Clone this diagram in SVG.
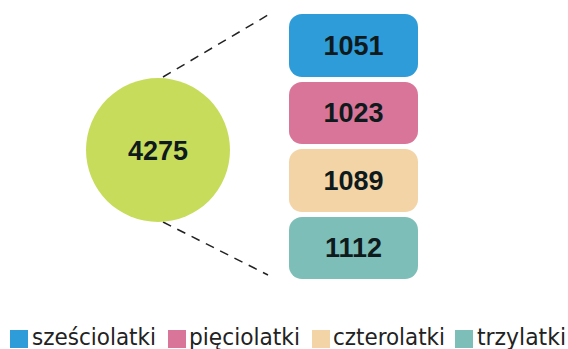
<svg xmlns="http://www.w3.org/2000/svg" width="568" height="349" viewBox="0 0 568 349">
<style>
.num{font-family:"Liberation Sans",Arial,sans-serif;font-weight:bold;font-size:27px;fill:#0f1a1c;text-anchor:middle}
.leg{font-family:"DejaVu Sans Condensed","DejaVu Sans",sans-serif;font-stretch:condensed;font-size:23px;fill:#222}
.dash{stroke:#222;stroke-width:1.5;stroke-dasharray:9,7;fill:none}
</style>
<rect width="568" height="349" fill="#fff"/>
<g id="connectors">
<line class="dash" x1="163" y1="77" x2="268" y2="15"/>
<line class="dash" x1="163" y1="222" x2="268" y2="275"/>
</g>
<g id="total">
<circle cx="158" cy="150" r="72" fill="#C8DC5C"/>
<text class="num" x="158" y="160">4275</text>
</g>
<g id="n1051">
<rect x="289" y="14" width="129" height="63" rx="13" fill="#2E9CD9"/>
<text class="num" x="353.5" y="55">1051</text>
</g>
<g id="n1023">
<rect x="289" y="82" width="129" height="62" rx="13" fill="#D97599"/>
<text class="num" x="353.5" y="122">1023</text>
</g>
<g id="n1089">
<rect x="289" y="149" width="129" height="63" rx="13" fill="#F2D4A6"/>
<text class="num" x="353.5" y="190">1089</text>
</g>
<g id="n1112">
<rect x="289" y="217" width="129" height="62" rx="13" fill="#7DBFB8"/>
<text class="num" x="353.5" y="257">1112</text>
</g>
<g id="legend">
<rect x="10" y="330" width="18" height="18" fill="#2E9CD9"/>
<text class="leg" x="32" y="345" textLength="124" lengthAdjust="spacingAndGlyphs">sześciolatki</text>
<rect x="168" y="330" width="18" height="18" fill="#D97599"/>
<text class="leg" x="189" y="345" textLength="111" lengthAdjust="spacingAndGlyphs">pięciolatki</text>
<rect x="312" y="330" width="18" height="18" fill="#F2D4A6"/>
<text class="leg" x="333" y="345" textLength="112" lengthAdjust="spacingAndGlyphs">czterolatki</text>
<rect x="455" y="330" width="18" height="18" fill="#7DBFB8"/>
<text class="leg" x="477" y="345" textLength="89" lengthAdjust="spacingAndGlyphs">trzylatki</text>
</g>
</svg>
